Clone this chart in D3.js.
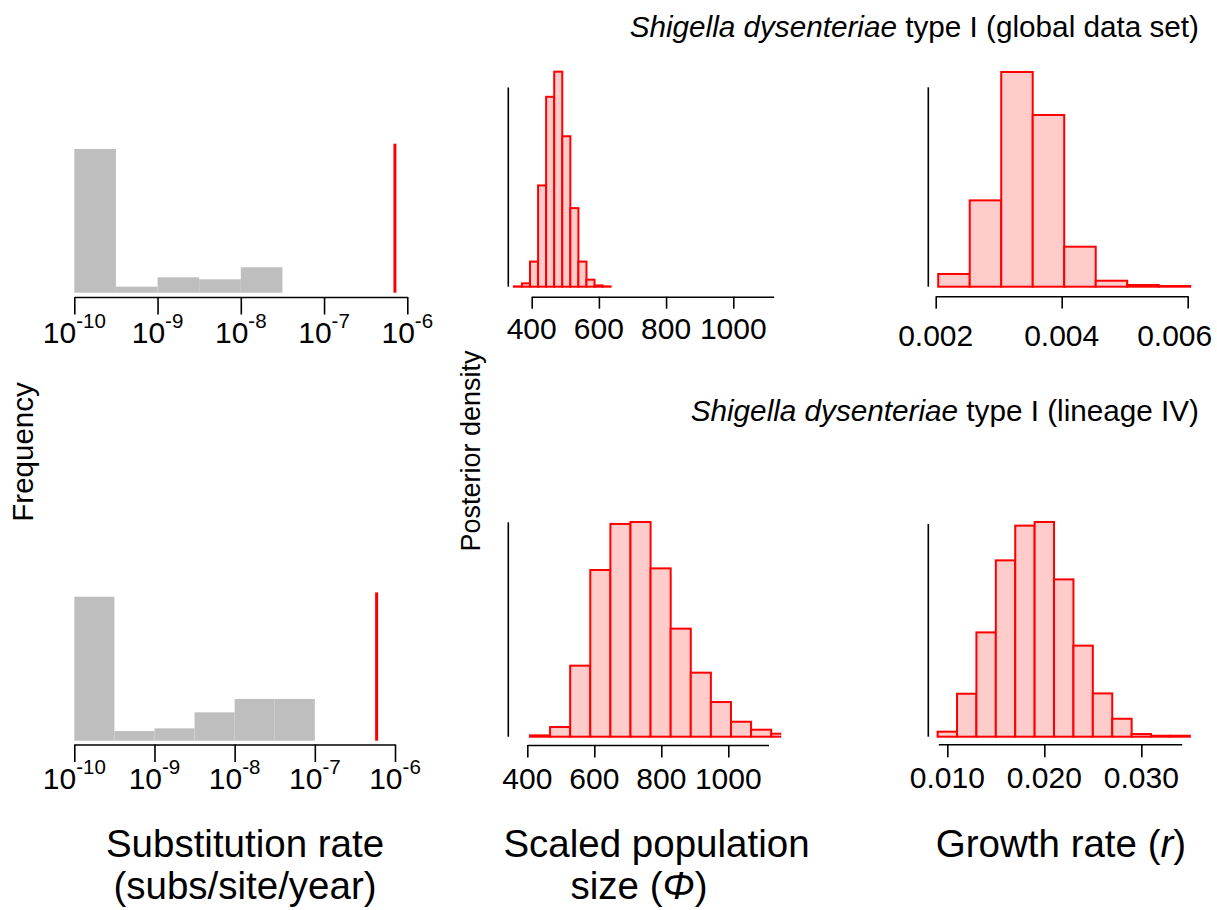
<!DOCTYPE html>
<html><head><meta charset="utf-8">
<script src="https://cdn.jsdelivr.net/npm/d3@7"></script>
<style>
body{margin:0;background:#fff}
svg{display:block}
text{font-family:"Liberation Sans", Arial, Helvetica, sans-serif; fill:#000}
</style>
</head><body>
<svg id="chart" width="1217" height="910"></svg>
<script>
// ---------------- DATA ----------------
// Substitution rate histograms (log10 bins of width 0.5), relative frequency
const rateBinEdges = [1e-10, 3.162e-10, 1e-9, 3.162e-9, 1e-8, 3.162e-8, 1e-7];
const rateFreqGlobal = [100, 4.2, 10.7, 9.3, 17.7];
const rateFreqLineage = [100, 6.7, 8.6, 19.7, 29.0, 29.0];
const clockRateGlobal = 7.1e-7;
const clockRateLineage = 5.9e-7;
const rateTicks = [1e-10, 1e-9, 1e-8, 1e-7, 1e-6];
const rateTickExponents = ["-10", "-9", "-8", "-7", "-6"];

// Scaled population size posterior (percent of samples per bin)
const popEdgesGlobal = [347, 371, 395, 419, 443, 467, 491, 515, 539, 563, 587, 611, 635];
const popDensGlobal = [0.04, 0.42, 3.15, 12.71, 23.83, 26.98, 18.88, 9.86, 3.15, 0.88, 0.16, 0.04];
const popEdgesLineage = [408, 468, 528, 588, 648, 708, 768, 828, 888, 948, 1008, 1068, 1128, 1188];
const popDensLineage = [0.12, 0.90, 6.60, 15.49, 19.77, 19.95, 15.64, 10.04, 5.95, 3.22, 1.39, 0.65, 0.28];
const popTicks = [400, 600, 800, 1000];
const popTickLabels = ["400", "600", "800", "1000"];

// Growth rate posterior (percent of samples per bin)
const growthEdgesGlobal = [0.00204, 0.00254, 0.00304, 0.00354, 0.00404, 0.00454, 0.00504, 0.00554, 0.00604];
const growthDensGlobal = [2.38, 16.17, 40.22, 32.17, 7.49, 1.12, 0.32, 0.13];
const growthEdgesLineage = [0.009, 0.011, 0.013, 0.015, 0.017, 0.019, 0.021, 0.023, 0.025, 0.027, 0.029, 0.031, 0.033, 0.035];
const growthDensLineage = [0.47, 4.02, 9.76, 16.50, 19.75, 20.09, 14.72, 8.52, 4.05, 1.68, 0.25, 0.09, 0.09];
const growthTicksGlobal = [0.002, 0.004, 0.006];
const growthTickLabelsGlobal = ["0.002", "0.004", "0.006"];
const growthTicksLineage = [0.010, 0.020, 0.030];
const growthTickLabelsLineage = ["0.010", "0.020", "0.030"];

// density axis extents (top of the bare y axis line)
const densAxisTop = {popGlobal: 25.0, growthGlobal: 37.35, popLineage: 19.92, growthLineage: 19.9};

const titles = ["type I (global data set)", "type I (lineage IV)"];
const species = "Shigella dysenteriae";

// ---------------- DRAW ----------------
const svg = d3.select("#chart");
const RED = "#FF0000", PINK = "#FFCCCC", GRAY = "#BEBEBE";

const panels = [
  {kind: "rate", edges: rateBinEdges, values: rateFreqGlobal, marker: clockRateGlobal, markerFrac: 1.037,
   log: true, xDomain: [1e-10, 1e-6], xRange: [74.3, 407.3], yBase: 292.7, yTop: 149,
   axisY: 297, tick: 17.5, labelY: 343, ticks: rateTicks, exps: rateTickExponents},
  {kind: "rate", edges: rateBinEdges, values: rateFreqLineage, marker: clockRateLineage, markerFrac: 1.03,
   log: true, xDomain: [1e-10, 1e-6], xRange: [74.3, 395], yBase: 740.7, yTop: 596.7,
   axisY: 744.5, tick: 17.5, labelY: 788.5, ticks: rateTicks, exps: rateTickExponents},
  {kind: "dens", edges: popEdgesGlobal, values: popDensGlobal, axisTop: densAxisTop.popGlobal,
   xDomain: [400, 1120], xRange: [531.7, 773.6], yBase: 286.7, yTop: 71.7, yLineX: 508.3,
   axisY: 296.7, tick: 12, labelY: 339, ticks: popTicks, labels: popTickLabels},
  {kind: "dens", edges: growthEdgesGlobal, values: growthDensGlobal, axisTop: densAxisTop.growthGlobal,
   xDomain: [0.002, 0.006], xRange: [935.7, 1187.7], yBase: 286.7, yTop: 72, yLineX: 928.3,
   axisY: 296.3, tick: 12.3, labelY: 346, ticks: growthTicksGlobal, labels: growthTickLabelsGlobal, lastShift: -13},
  {kind: "dens", edges: popEdgesLineage, values: popDensLineage, axisTop: densAxisTop.popLineage,
   xDomain: [400, 1120], xRange: [527.3, 768.5], yBase: 736.7, yTop: 522, yLineX: 508.3, clipMax: 1158,
   axisY: 745, tick: 12.5, labelY: 789, ticks: popTicks, labels: popTickLabels},
  {kind: "dens", edges: growthEdgesLineage, values: growthDensLineage, axisTop: densAxisTop.growthLineage,
   xDomain: [0.00907, 0.03416], xRange: [938.3, 1181.7], yBase: 736.7, yTop: 522, yLineX: 928.3,
   axisY: 744.3, tick: 13, labelY: 788, ticks: growthTicksLineage, labels: growthTickLabelsLineage}
];

panels.forEach((p, pi) => {
  const x = (p.log ? d3.scaleLog() : d3.scaleLinear()).domain(p.xDomain).range(p.xRange);
  const y = d3.scaleLinear().domain([0, d3.max(p.values)]).range([p.yBase, p.yTop]);
  const g = svg.append("g");
  const bins = p.values.map((v, i) => ({x0: p.edges[i], x1: p.edges[i + 1], v}));

  let barG = g.append("g");
  if (p.clipMax !== undefined) {
    const id = "clip" + pi;
    svg.append("defs").append("clipPath").attr("id", id)
      .append("rect").attr("x", 0).attr("y", 0).attr("width", x(p.clipMax)).attr("height", 910);
    barG.attr("clip-path", `url(#${id})`);
  }

  barG.selectAll("rect").data(bins).join("rect")
    .attr("x", d => x(d.x0))
    .attr("width", d => x(d.x1) - x(d.x0))
    .attr("y", d => y(d.v))
    .attr("height", d => Math.max(0, y(0) - y(d.v)))
    .attr("fill", p.kind === "rate" ? GRAY : PINK)
    .attr("stroke", p.kind === "rate" ? "none" : RED)
    .attr("stroke-width", 2);

  if (p.kind === "rate") {
    const m = d3.max(p.values) * p.markerFrac;
    g.append("line")
      .attr("x1", x(p.marker)).attr("x2", x(p.marker))
      .attr("y1", y(0)).attr("y2", y(m))
      .attr("stroke", RED).attr("stroke-width", 3);
  } else {
    g.append("line")
      .attr("x1", p.yLineX).attr("x2", p.yLineX)
      .attr("y1", y(0)).attr("y2", y(p.axisTop))
      .attr("stroke", "#000").attr("stroke-width", 1.6);
  }

  const axis = d3.axisBottom(x).tickValues(p.ticks).tickSize(p.tick).tickSizeOuter(0)
    .tickFormat(() => "");
  const ag = g.append("g").attr("transform", `translate(0,${p.axisY})`).call(axis);
  ag.select(".domain").attr("stroke", "#000").attr("stroke-width", 1.6);
  ag.selectAll(".tick line").attr("stroke", "#000").attr("stroke-width", 1.6);
  ag.selectAll(".tick text").remove();

  const lab = g.append("g");
  p.ticks.forEach((t, i) => {
    const tx = lab.append("text")
      .attr("x", x(t) + (i === p.ticks.length - 1 && p.lastShift ? p.lastShift : 0))
      .attr("y", p.labelY)
      .attr("text-anchor", "middle")
      .attr("font-size", 30);
    if (p.kind === "rate") {
      tx.append("tspan").text("10");
      tx.append("tspan").attr("font-size", 20.5).attr("dy", -15).text(p.exps[i]);
    } else {
      tx.text(p.labels[i]);
    }
  });
});

// Titles
[[37, titles[0]], [421, titles[1]]].forEach(([ty, rest]) => {
  const t = svg.append("text").attr("x", 1199).attr("y", ty)
    .attr("text-anchor", "end").attr("font-size", 29.7);
  t.append("tspan").attr("font-style", "italic").text(species);
  t.append("tspan").text(" " + rest);
});

// Y labels
svg.append("text").attr("transform", "translate(33,452) rotate(-90)")
  .attr("text-anchor", "middle").attr("font-size", 29.5).text("Frequency");
svg.append("text").attr("transform", "translate(480,451) rotate(-90)")
  .attr("text-anchor", "middle").attr("font-size", 27).text("Posterior density");

// X labels
const xl = [
  {x: 245, y: 857, parts: [["Substitution rate", false]]},
  {x: 245, y: 899, parts: [["(subs/site/year)", false]]},
  {x: 656.5, y: 857, parts: [["Scaled population", false]]},
  {x: 639, y: 899, parts: [["size (", false], ["Φ", true], [")", false]]},
  {x: 1061, y: 857, parts: [["Growth rate (", false], ["r", true], [")", false]]}
];
xl.forEach(l => {
  const t = svg.append("text").attr("x", l.x).attr("y", l.y)
    .attr("text-anchor", "middle").attr("font-size", 38.5);
  l.parts.forEach(([s, it]) => t.append("tspan").attr("font-style", it ? "italic" : "normal").text(s));
});
</script>
</body></html>
